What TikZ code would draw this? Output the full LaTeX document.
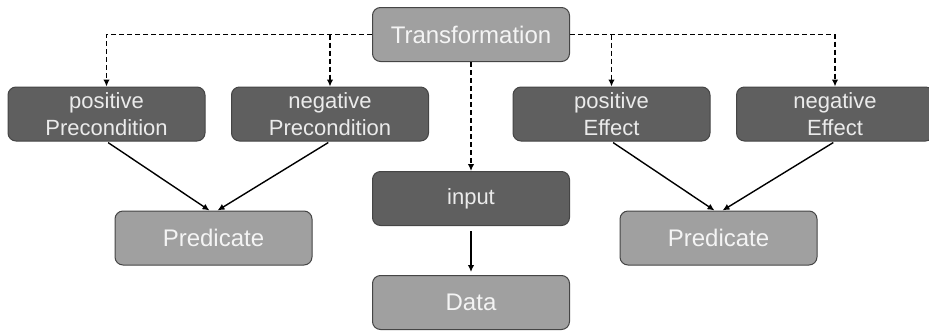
\documentclass[tikz,border=0pt]{standalone}
\usepackage{fontspec}
\setmainfont{Liberation Sans}
\usetikzlibrary{positioning,arrows.meta}
\definecolor{boxdark}{HTML}{5F5F5F}
\definecolor{boxlight}{HTML}{A0A0A0}
\definecolor{boxline}{HTML}{454545}
\definecolor{textdark}{HTML}{EBEBEB}
\definecolor{textlight}{HTML}{F4F4F4}

\begin{document}
\begin{tikzpicture}[x=1pt,y=1pt,on grid,
box/.style={draw=boxline,line width=1pt,rounded corners=8pt,minimum width=197pt,minimum height=54pt,align=center,inner sep=0pt},
darkbox/.style={box,fill=boxdark,text=textdark,font=\fontsize{22}{27}\selectfont},
lightbox/.style={box,fill=boxlight,text=textlight,font=\fontsize{24}{28}\selectfont},
dashlink/.style={line width=1.5pt,dash pattern=on 5pt off 3pt,-{Latex[length=7pt,width=6.5pt]}},
link/.style={line width=1.4pt,-{Latex[length=7pt,width=6.5pt]}}]
\useasboundingbox (0,0) rectangle (929,-330);
\node[lightbox](tr) at (471,-34.5){Transformation};
\node[darkbox,below left=79.5pt and 364.5pt of tr](pp){positive\\Precondition};
\node[darkbox,right=223.5pt of pp](np){negative\\Precondition};
\node[darkbox,right=281.5pt of np](pe){positive\\Effect};
\node[darkbox,right=223.5pt of pe](ne){negative\\Effect};
\node[darkbox,below=164pt of tr](ip){input};
\node[lightbox,below=104pt of ip](da){Data};
\node[lightbox,below right=124pt and 107pt of pp](pl){Predicate};
\node[lightbox,below right=124pt and 107pt of pe](pr){Predicate};
\draw[dashlink](tr.west) -| (pp.north);
\draw[dashlink](np |- tr.west) -- (np.north);
\draw[dashlink](tr.east) -| (ne.north);
\draw[dashlink](pe |- tr.east) -- (pe.north);
\draw[dashlink](tr) -- (ip);
\draw[link,shorten <=2pt](pp.south) -- ([xshift=-4pt]pl.north);
\draw[link,shorten <=2pt](np.south) -- ([xshift=4pt]pl.north);
\draw[link,shorten <=2pt](pe.south) -- ([xshift=-4pt]pr.north);
\draw[link,shorten <=2pt](ne.south) -- ([xshift=4pt]pr.north);
\draw[link,shorten <=5pt,shorten >=3pt](ip) -- (da);
\end{tikzpicture}
\end{document}
